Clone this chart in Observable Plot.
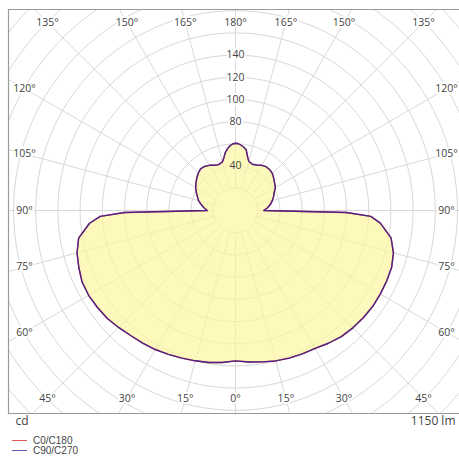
<!DOCTYPE html>
<html><head><meta charset="utf-8">
<script src="https://cdn.jsdelivr.net/npm/d3@7"></script>
<script src="https://cdn.jsdelivr.net/npm/@observablehq/plot@0.6"></script>
<style>
html,body{margin:0;padding:0;background:#fff;overflow:hidden;}
#chart svg{display:block;overflow:hidden;}
#legend{position:relative;height:25px;font-family:"Liberation Sans",sans-serif;font-size:10px;color:#444;}
#legend .row{position:absolute;left:0;height:11px;line-height:11px;display:flex;align-items:center;white-space:nowrap;}
#legend .sw{display:inline-block;width:15px;height:1px;margin-left:12px;margin-right:6px;}
</style></head><body>
<div id="chart"></div>
<div id="legend"></div>
<script>
// gamma angles (deg, 0 = straight down)
const gammaDeg = [0,5,10,15,20,25,30,35,40,45,50,55,60,65,70,75,80,85,87.5,89,90,95,100,105,110,115,120,125,130,135,140,145,150,155,160,165,167.5,170,172.5,175,177.5,180];
// luminous intensity, cd
const cdC90  = [135.5,137,138.5,140.3,141.5,142.5,143.5,146,148.3,149.5,150.3,150.8,150.6,150.3,149.7,147.3,142.3,131,122,100,25.5,29,32,34.3,36.5,38.5,41.5,43,45,47,48,48.2,47,45.2,44.3,46,50,55.5,57.5,59,60.2,60.6];
const cdC270 = [135.5,137.5,139,140.2,141.5,143,144.6,145.8,147,149,151,152,152.8,152.5,150.2,147.8,143.5,132,122,100,25.5,28.5,31.5,34.5,36.5,39,41.5,43.5,45.5,47.5,49,48.5,47,45,44,45.5,48.5,53,56,58.5,60,60.6];
// C0/C180 coincides with C90/C270 in the picture
const cdC0   = [135.5,137,138.5,140.3,141.5,142.5,143.5,146,148.3,149.5,150.3,150.8,150.6,150.3,149.7,147.3,142.3,131,122,100,25.5,29,32,34.3,36.5,38.5,41.5,43,45,47,48,48.2,47,45.2,44.3,46,50,55.5,57.5,59,60.2,60.6];
const cdC180 = [135.5,137.5,139,140.2,141.5,143,144.6,145.8,147,149,151,152,152.8,152.5,150.2,147.8,143.5,132,122,100,25.5,28.5,31.5,34.5,36.5,39,41.5,43.5,45.5,47.5,49,48.5,47,45,44,45.5,48.5,53,56,58.5,60,60.6];

const angleTicks = [0,15,30,45,60,75,90,105,120,135,150,165,180];
const radialTickLabels = [40,80,100,120,140];
const gridRadii = [20,40,60,80,100,120,140,160,180,200,220,240,260,280,300];
const seriesNames = ["C0/C180","C90/C270"];
const seriesColors = ["#d02020","#2424a8"];
const fluxText = "1150 lm";
const unitText = "cd";

const rad = d => d*Math.PI/180;
function shape(right, left){
  const pts = [];
  gammaDeg.forEach((g,i)=>pts.push({x: right[i]*Math.sin(rad(g)), y: -right[i]*Math.cos(rad(g))}));
  for(let i=gammaDeg.length-1;i>=0;i--){const g=gammaDeg[i]; pts.push({x: -left[i]*Math.sin(rad(g)), y: -left[i]*Math.cos(rad(g))});}
  return pts;
}
const shapeC90 = shape(cdC90, cdC270);
const shapeC0 = shape(cdC0, cdC180);

// grid
const circlePts = [];
gridRadii.forEach(r=>{for(let a=0;a<=360;a+=3) circlePts.push({r, x:r*Math.sin(rad(a)), y:r*Math.cos(rad(a))});});
const spokes = d3.range(0,360,15).map(a=>({x1:20*Math.sin(rad(a)), y1:20*Math.cos(rad(a)), x2:340*Math.sin(rad(a)), y2:340*Math.cos(rad(a))}));

const k = 1.11; // px per cd
const W = 211/k, H = 188/k;
const angleLabels = [];
angleTicks.forEach(a=>{
  const sides = (a===0||a===180)?[1]:[1,-1];
  sides.forEach(s=>{
    const dx = s*Math.sin(rad(a)), dy = -Math.cos(rad(a));
    const t = Math.min(Math.abs(dx)>1e-9?W/Math.abs(dx):Infinity, Math.abs(dy)>1e-9?H/Math.abs(dy):Infinity);
    angleLabels.push({x:dx*t, y:dy*t, text:a+"°"});
  });
});
const radialLabels = radialTickLabels.map(v=>({x:0, y:v, text:String(v), halo: v<=60?"#fdf9bb":"white"}));

const xmin = -227/k, xmax = 224/k, ymin = -203/k, ymax = 201/k;
const font = "'Open Sans', sans-serif";

const chart = Plot.plot({
  width: 459, height: 432,
  marginLeft: 8, marginRight: 0, marginTop: 9, marginBottom: 19,
  x: {domain:[xmin,xmax], axis:null},
  y: {domain:[ymin,ymax], axis:null},
  style: {fontFamily: font, background:"white", overflow:"hidden"},
  marks: [
    Plot.line(circlePts, {x:"x", y:"y", z:"r", stroke:"#d8d8d8", strokeWidth:1, clip:"frame"}),
    Plot.link(spokes, {x1:"x1", y1:"y1", x2:"x2", y2:"y2", stroke:"#d8d8d8", strokeWidth:1, clip:"frame"}),
    Plot.line(shapeC90, {x:"x", y:"y", curve:"linear-closed", fill:"#fcf69f", fillOpacity:0.7, stroke:"none"}),
    Plot.line(shapeC0, {x:"x", y:"y", curve:"linear-closed", stroke:seriesColors[0], strokeWidth:1.4}),
    Plot.line(shapeC90, {x:"x", y:"y", curve:"linear-closed", stroke:seriesColors[1], strokeWidth:1.4, strokeOpacity:0.75}),
    Plot.ruleX([xmin], {y1:ymin, y2:ymax, stroke:"#9a9a9a", strokeWidth:1.2}),
    Plot.ruleY([ymin, ymax], {x1:xmin, x2:xmax, stroke:"#9a9a9a", strokeWidth:1.2}),
    Plot.text(radialLabels, {x:"x", y:"y", text:"text", fill:"#444", stroke:"halo", strokeWidth:4, fontSize:10.5}),
    Plot.text(angleLabels, {x:"x", y:"y", text:"text", fill:"#444", stroke:"white", strokeWidth:4, fontSize:10.5}),
    Plot.text([unitText], {frameAnchor:"bottom-left", dx:7, dy:3, lineAnchor:"top", textAnchor:"start", fill:"#444", fontSize:12}),
    Plot.text([fluxText], {frameAnchor:"bottom-right", dx:-4, dy:3, lineAnchor:"top", textAnchor:"end", fill:"#444", fontSize:12})
  ]
});
document.getElementById("chart").appendChild(chart);

const legend = document.getElementById("legend");
const tops = [3, 13];
seriesNames.forEach((n,i)=>{
  const row = document.createElement("div");
  row.className = "row";
  row.style.top = tops[i]+"px";
  const sw = document.createElement("span");
  sw.className = "sw";
  sw.style.background = seriesColors[i];
  sw.style.opacity = 0.75;
  row.appendChild(sw);
  const t = document.createElement("span");
  t.textContent = n;
  row.appendChild(t);
  legend.appendChild(row);
});
</script>
</body></html>
